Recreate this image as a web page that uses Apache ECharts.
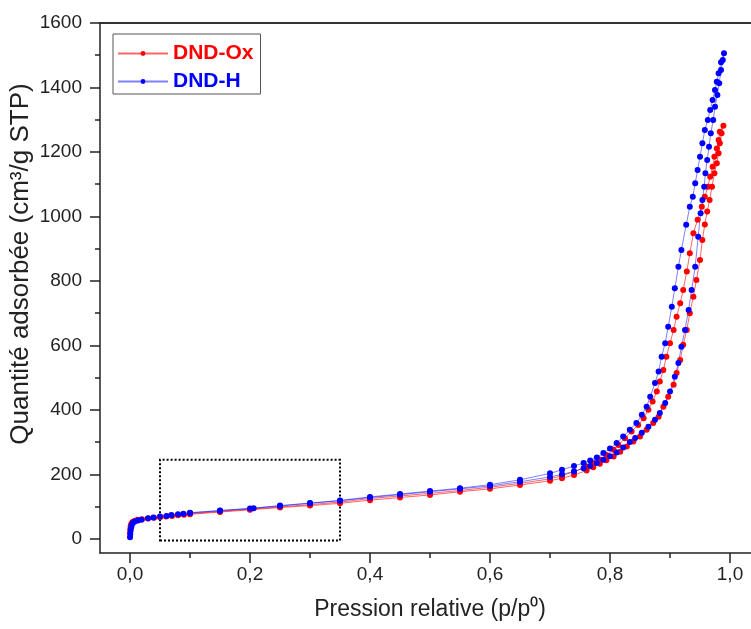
<!DOCTYPE html>
<html><head><meta charset="utf-8">
<script src="https://cdn.jsdelivr.net/npm/echarts@6/dist/echarts.min.js"></script>
<style>html,body{margin:0;padding:0;background:#fff}#c{width:751px;height:629px}</style>
</head><body><div id="c"></div>
<script>
const xTickLabels = [0, 0.2, 0.4, 0.6, 0.8, 1.0];
const xMinorTicks = [0.1, 0.3, 0.5, 0.7, 0.9];
const yTickLabels = [0, 200, 400, 600, 800, 1000, 1200, 1400, 1600];
const yMinorTicks = [100, 300, 500, 700, 900, 1100, 1300, 1500];
const seriesNames = ['DND-Ox', 'DND-H'];

// DND-Ox: adsorption (increasing p) followed by desorption (decreasing p)
const oxP = [0.000,0.0005,0.001,0.002,0.003,0.005,0.008,0.013,0.02,0.03,0.04,0.05,0.06,0.07,0.08,0.09,0.1,0.15,0.2,0.25,0.3,0.35,0.4,0.45,0.5,0.55,0.6,0.65,0.7,0.72,0.74,0.761,0.772,0.783,0.794,0.806,0.817,0.828,0.839,0.85,0.861,0.872,0.881,0.889,0.897,0.906,0.911,0.917,0.922,0.928,0.933,0.939,0.944,0.95,0.954,0.958,0.962,0.966,0.970,0.974,0.978,0.981,0.983,0.986,0.989,
  0.983,0.981,0.978,0.974,0.971,0.967,0.963,0.958,0.953,0.946,0.939,0.933,0.928,0.922,0.917,0.911,0.906,0.9,0.894,0.889,0.883,0.878,0.871,0.864,0.856,0.847,0.836,0.825,0.814,0.806,0.794,0.783,0.772,0.761,0.74,0.72,0.7,0.65,0.6,0.55,0.5,0.45,0.4,0.35,0.3,0.25,0.2,0.15,0.1];
const oxV = [18,30,38,45,49,53,56,59,61,63,65,67,69,71,73,75,76,83,90,97,103,110,120,128,136,146,155,167,180,188,198,212,222,233,244,255,270,286,302,317,338,359,379,410,441,478,514,555,602,648,700,751,803,865,927,975,1015,1051,1092,1134,1165,1196,1227,1258,1281,
  1263,1237,1211,1185,1154,1123,1092,1061,1030,990,948,886,829,772,731,689,648,607,565,524,488,457,426,400,374,353,333,312,291,276,260,246,235,224,208,196,186,172,160,150,141,133,125,114,106,99,92,85,78];

// DND-H: adsorption followed by desorption
const hP = [0.000,0.0005,0.001,0.002,0.003,0.005,0.008,0.013,0.019,0.03,0.039,0.05,0.061,0.069,0.08,0.089,0.1,0.15,0.2,0.25,0.3,0.35,0.4,0.45,0.5,0.55,0.6,0.65,0.7,0.72,0.74,0.756,0.767,0.778,0.789,0.8,0.811,0.822,0.833,0.842,0.853,0.864,0.875,0.883,0.892,0.9,0.908,0.914,0.919,0.925,0.931,0.936,0.942,0.947,0.951,0.954,0.957,0.959,0.962,0.965,0.968,0.972,0.975,0.979,0.982,0.985,0.988,0.990,
  0.985,0.981,0.978,0.975,0.971,0.967,0.963,0.958,0.954,0.950,0.946,0.942,0.938,0.933,0.927,0.919,0.914,0.908,0.903,0.897,0.892,0.886,0.881,0.875,0.867,0.861,0.853,0.844,0.833,0.822,0.811,0.8,0.789,0.778,0.767,0.756,0.74,0.72,0.7,0.65,0.6,0.55,0.5,0.45,0.4,0.35,0.3,0.25,0.206,0.15,0.1];
const hV = [5,15,26,36,44,50,54,57,59,64,66,69,71,74,76,78,80,87,94,102,110,118,128,137,146,155,164,177,192,200,209,219,226,235,245,256,268,283,300,313,329,348,369,390,421,457,503,545,596,648,710,772,844,937,1010,1051,1092,1134,1175,1216,1258,1299,1340,1377,1413,1454,1485,1506,
  1478,1444,1418,1392,1361,1330,1299,1268,1227,1185,1144,1103,1061,1030,974,896,844,777,720,658,607,565,519,483,441,410,385,359,338,317,297,280,266,252,243,235,226,214,203,183,168,157,148,139,130,119,111,103,95,88,81];

// dotted zoom box (in data units)
const boxP = [0.05, 0.35];
const boxV = [-5, 245];

const FONT = 'Liberation Sans, Arial, sans-serif';
const AX = '#222';
const xMin = -0.05, xMax = 1.05, yMin = -44, yMax = 1600;

const chart = echarts.init(document.getElementById('c'), null, {renderer: 'canvas'});
const pairs = (P, V) => P.map((p, i) => [p, V[i]]);

chart.setOption({
  animation: false,
  backgroundColor: '#fff',
  textStyle: {fontFamily: FONT},
  grid: {left: 100, top: 23, width: 660, height: 530, containLabel: false, outerBoundsMode: 'none'},
  legend: {
    left: 113, top: 34, orient: 'vertical',
    itemWidth: 50, itemHeight: 6, itemGap: 7,
    padding: [9, 7, 2, 4],
    borderColor: '#555', borderWidth: 1, backgroundColor: '#fff',
    textStyle: {fontSize: 21, fontWeight: 'bold', fontFamily: FONT},
    data: [
      {name: seriesNames[0], textStyle: {color: '#ff0000'}},
      {name: seriesNames[1], textStyle: {color: '#0000ff'}}
    ]
  },
  xAxis: [
    {
      type: 'value', min: xMin, max: xMax, position: 'bottom',
      axisLine: {onZero: false, lineStyle: {color: AX, width: 1.5}},
      axisTick: {customValues: xTickLabels, length: 10, lineStyle: {color: AX, width: 1.5}},
      axisLabel: {customValues: xTickLabels, margin: 12, fontSize: 19, color: AX, fontFamily: FONT,
        formatter: v => v.toFixed(1).replace('.', ',')},
      splitLine: {show: false},
      name: 'Pression relative (p/p⁰)', nameLocation: 'middle', nameGap: 45,
      nameTextStyle: {fontSize: 23, color: AX, fontFamily: FONT}
    },
    {
      type: 'value', min: xMin, max: xMax, position: 'bottom',
      axisLine: {show: false, onZero: false},
      axisTick: {customValues: xMinorTicks, length: 5, lineStyle: {color: AX, width: 1.5}},
      axisLabel: {show: false}, splitLine: {show: false}
    },
    {
      type: 'value', min: xMin, max: xMax, position: 'top',
      axisLine: {show: true, onZero: false, lineStyle: {color: '#333', width: 2}},
      axisTick: {show: false}, axisLabel: {show: false}, splitLine: {show: false}
    }
  ],
  yAxis: [
    {
      type: 'value', min: yMin, max: yMax, position: 'left',
      axisLine: {show: true, onZero: false, lineStyle: {color: AX, width: 1.5}},
      axisTick: {customValues: yTickLabels, length: 10, lineStyle: {color: AX, width: 1.5}},
      axisLabel: {customValues: yTickLabels, margin: 18, fontSize: 19, color: AX, fontFamily: FONT,
        formatter: v => String(v)},
      splitLine: {show: false},
      name: 'Quantité adsorbée (cm³/g STP)', nameLocation: 'middle', nameGap: 66,
      nameMoveOverlap: false,
      nameTextStyle: {fontSize: 26, color: AX, fontFamily: FONT, padding: [0, 0, 0, 48]}
    },
    {
      type: 'value', min: yMin, max: yMax, position: 'left',
      axisLine: {show: false, onZero: false},
      axisTick: {customValues: yMinorTicks, length: 5, lineStyle: {color: AX, width: 1.5}},
      axisLabel: {show: false}, splitLine: {show: false}
    }
  ],
  series: [
    {
      name: seriesNames[0], type: 'line', xAxisIndex: 0, yAxisIndex: 0,
      data: pairs(oxP, oxV),
      symbol: 'circle', symbolSize: 6, showSymbol: true, showAllSymbol: true,
      lineStyle: {color: 'rgba(255,0,0,0.6)', width: 1},
      itemStyle: {color: '#ff0000'},
      emphasis: {disabled: true}
    },
    {
      name: seriesNames[1], type: 'line', xAxisIndex: 0, yAxisIndex: 0,
      data: pairs(hP, hV),
      symbol: 'circle', symbolSize: 6, showSymbol: true, showAllSymbol: true,
      lineStyle: {color: 'rgba(0,0,255,0.5)', width: 1},
      itemStyle: {color: '#0000ff'},
      emphasis: {disabled: true},
      markArea: {
        silent: true,
        itemStyle: {color: 'rgba(0,0,0,0)', borderColor: '#000', borderWidth: 2, borderType: [2, 2]},
        data: [[{xAxis: boxP[0], yAxis: boxV[0]}, {xAxis: boxP[1], yAxis: boxV[1]}]]
      }
    }
  ]
});
</script>
</body></html>
